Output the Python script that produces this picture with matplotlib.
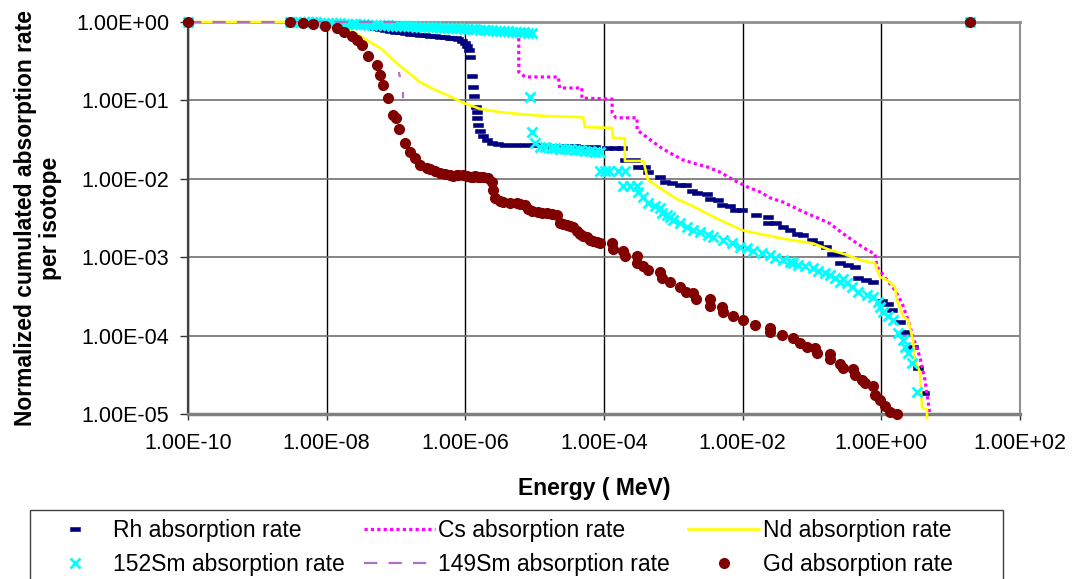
import numpy as np
import matplotlib
matplotlib.use("Agg")
import matplotlib.pyplot as plt
from matplotlib.ticker import FixedLocator, FuncFormatter, NullLocator
from matplotlib.patches import Rectangle
from matplotlib.path import Path

plt.rcParams['font.family'] = ['Liberation Sans', 'DejaVu Sans']

# ---------------- data (energy in MeV, normalized cumulated rate) ----------------
rh_energy = [1e-10, 3.0e-9, 6.8e-9, 9.5e-9, 1.3e-8, 1.8e-8, 2.6e-8, 3.6e-8, 5.0e-8, 5.9e-8,
             6.9e-8, 8.2e-8, 9.7e-8, 1.14e-7, 1.35e-7, 1.6e-7, 1.9e-7, 2.2e-7, 2.6e-7, 3.1e-7,
             3.7e-7, 4.32e-7, 5.1e-7, 6.01e-7, 6.4e-7, 7.35e-7, 7.8e-7, 9.0e-7, 9.9e-7,
             1.06e-6, 1.13e-6, 1.17e-6, 1.25e-6, 1.29e-6, 1.33e-6, 1.43e-6, 1.47e-6, 1.47e-6, 1.52e-6,
             1.63e-6, 1.8e-6, 2.06e-6, 2.43e-6, 2.96e-6, 3.73e-6, 5.21e-6, 7.26e-6, 1.0e-5, 1.41e-5,
             1.96e-5, 2.74e-5, 3.82e-5, 5.32e-5, 7.41e-5, 1.11e-4, 1.44e-4, 1.82e-4, 2.0e-4, 2.8e-4,
             3.1e-4, 3.91e-4, 4.3e-4, 6.4e-4, 7.59e-4, 9.57e-4, 1.25e-3, 1.5e-3, 1.86e-3, 2.19e-3,
             3.06e-3, 3.4e-3, 4.41e-3, 5.0e-3, 6.58e-3, 7.76e-3, 9.8e-3, 1.56e-2, 2.32e-2, 2.32e-2,
             3.03e-2, 3.82e-2, 4.82e-2, 6.08e-2, 7.43e-2, 0.100, 0.122, 0.159, 0.195, 0.25,
             0.25, 0.331, 0.418, 0.461, 0.601, 0.76, 1.02, 1.25, 1.43, 1.86,
             2.2, 2.86, 3.38, 4.13, 19.0]
rh_rate = [1.0, 1.0, 1.0, 0.97, 0.97, 0.94, 0.915, 0.89, 0.84, 0.81,
           0.79, 0.77, 0.745, 0.735, 0.72, 0.71, 0.70, 0.69, 0.68, 0.67,
           0.66, 0.65, 0.64, 0.634, 0.625, 0.616, 0.61, 0.57, 0.54,
           0.49, 0.44, 0.36, 0.205, 0.148, 0.114, 0.082, 0.071, 0.060, 0.0486,
           0.0407, 0.0352, 0.0313, 0.029, 0.0278, 0.027, 0.027, 0.027, 0.027, 0.0262,
           0.0262, 0.0262, 0.0262, 0.0255, 0.0255, 0.0247, 0.0247, 0.0247, 0.0174, 0.0174,
           0.0142, 0.0142, 0.0122, 0.0105, 0.0091, 0.0088, 0.0083, 0.0083, 0.0070, 0.0066,
           0.0064, 0.0055, 0.0054, 0.0046, 0.0045, 0.0040, 0.0040, 0.0035, 0.0033, 0.0027,
           0.0027, 0.0024, 0.0022, 0.0020, 0.0019, 0.00166, 0.0015, 0.00135, 0.0011, 0.0011,
           0.00084, 0.0008, 0.00075, 0.00054, 0.00051, 0.00048, 0.00028, 0.00025, 0.00021, 0.000149,
           0.000111, 7.2e-5, 3.9e-5, 1.85e-5, 1.0]

cs_energy = [5.9e-6, 5.9e-6, 7.3e-6, 2.2e-5, 2.3e-5, 4.8e-5, 4.8e-5, 1.31e-4, 1.31e-4,
             1.49e-4, 3.0e-4, 3.0e-4, 4.3e-4, 6.4e-4, 9.0e-4, 1.38e-3, 1.9e-3, 3.06e-3, 4.7e-3,
             7.3e-3, 1.16e-2, 1.78e-2, 2.5e-2, 3.7e-2, 5.3e-2, 7.4e-2, 0.118, 0.18, 0.28,
             0.447, 0.62, 0.81, 0.87, 1.21, 1.57, 1.99, 2.43, 2.86, 3.61,
             4.27, 5.04]
cs_rate = [0.75, 0.23, 0.199, 0.199, 0.144, 0.144, 0.107, 0.104, 0.069,
           0.060, 0.060, 0.042, 0.0331, 0.0255, 0.0213, 0.0174, 0.0159, 0.0142, 0.0122,
           0.0097, 0.0079, 0.0068, 0.0057, 0.0051, 0.0044, 0.0038, 0.0032, 0.0027, 0.0020,
           0.0015, 0.00124, 0.0011, 0.00075, 0.00051, 0.00038, 0.00026, 0.000158, 9.6e-5, 5.3e-5,
           2.7e-5, 9.5e-6]

nd_energy = [1e-10, 1.3e-8, 1.84e-8, 2.4e-8, 3.24e-8, 4.22e-8, 5.9e-8, 8.2e-8, 1.14e-7, 1.6e-7,
             2.2e-7, 3.42e-7, 5.44e-7, 9.3e-7, 1.63e-6, 3.16e-6, 6.15e-6, 1.51e-5, 4.98e-5, 5.32e-5,
             1.31e-4, 1.35e-4, 2.0e-4, 2.0e-4, 3.7e-4, 4.3e-4, 6.4e-4, 1.13e-3, 1.9e-3, 3.06e-3,
             5.0e-3, 1.0e-2, 2.5e-2, 4.82e-2, 0.104, 0.18, 0.32, 0.49, 0.81, 0.87,
             0.96, 1.21, 1.57, 1.68, 2.06, 2.43, 2.86, 3.06, 3.61, 3.86,
             4.56, 4.56]
nd_rate = [1.0, 1.0, 0.86, 0.745, 0.64, 0.556, 0.466, 0.36, 0.275, 0.217,
           0.172, 0.14, 0.117, 0.093, 0.078, 0.071, 0.067, 0.063, 0.061, 0.0458,
           0.0445, 0.0331, 0.0331, 0.0169, 0.0169, 0.0097, 0.0076, 0.0055, 0.0045, 0.0036,
           0.0029, 0.0022, 0.00186, 0.00166, 0.0015, 0.00124, 0.00107, 0.00092, 0.00084, 0.00069,
           0.00056, 0.00051, 0.00042, 0.00028, 0.000178, 0.000158, 8.8e-5, 4.9e-5, 3.4e-5, 1.23e-5,
           1.12e-5, 9.0e-6]

sm152_energy = [1e-10, 3.0e-9, 3.6e-9, 4.1e-9, 4.7e-9, 5.4e-9, 6.1e-9, 7.0e-9, 8.0e-9, 9.2e-9,
                1.05e-8, 1.2e-8, 1.36e-8, 1.56e-8, 1.78e-8, 2.0e-8, 2.3e-8, 2.6e-8, 3.0e-8, 3.5e-8,
                3.9e-8, 4.5e-8, 5.1e-8, 5.9e-8, 6.7e-8, 7.7e-8, 8.7e-8, 1.0e-7, 1.14e-7, 1.3e-7,
                1.49e-7, 1.7e-7, 1.95e-7, 2.2e-7, 2.54e-7, 2.9e-7, 3.3e-7, 3.8e-7, 4.32e-7, 4.9e-7,
                5.62e-7, 6.4e-7, 7.35e-7, 8.4e-7, 9.57e-7, 1.1e-6, 1.25e-6, 1.4e-6, 1.63e-6, 1.9e-6,
                2.12e-6, 2.4e-6, 2.77e-6, 3.2e-6, 3.61e-6, 4.1e-6, 4.71e-6, 5.4e-6, 6.15e-6, 7.0e-6,
                8.02e-6, 9.2e-6,
                8.6e-6, 9.2e-6, 1.0e-5, 1.2e-5, 1.41e-5, 1.7e-5, 1.96e-5, 2.3e-5, 2.74e-5, 3.2e-5,
                3.82e-5, 4.5e-5, 5.32e-5, 6.3e-5, 7.41e-5, 8.8e-5,
                8.8e-5, 1.03e-4, 1.2e-4, 1.59e-4, 2.0e-4, 1.9e-4, 2.37e-4, 3.0e-4,
                3.1e-4, 3.66e-4, 4.32e-4, 5.44e-4, 6.43e-4, 6.87e-4, 8.11e-4, 8.95e-4, 9.91e-4, 1.25e-3,
                1.57e-3, 1.92e-3, 2.43e-3, 3.16e-3, 3.73e-3, 5.21e-3, 7.03e-3, 9.16e-3, 1.16e-2, 1.41e-2,
                1.9e-2, 2.48e-2, 2.93e-2, 3.82e-2, 4.82e-2, 5.32e-2, 6.28e-2, 7.93e-2, 0.104, 0.122,
                0.154, 0.182, 0.215, 0.254, 0.281, 0.32, 0.378, 0.461, 0.622, 0.76,
                0.896, 0.96, 1.06, 1.25, 1.48, 1.74, 2.06, 2.2, 2.43, 2.77,
                3.27, 19.0]
sm152_rate = [1.0, 1.0, 1.0, 1.0, 1.0, 1.0, 1.0, 1.0, 0.97, 0.97,
              0.97, 0.97, 0.97, 0.97, 0.94, 0.94, 0.94, 0.94, 0.94, 0.94,
              0.915, 0.915, 0.915, 0.915, 0.915, 0.915, 0.89, 0.89, 0.89, 0.89,
              0.89, 0.89, 0.86, 0.86, 0.86, 0.86, 0.86, 0.86, 0.84, 0.84,
              0.84, 0.84, 0.84, 0.84, 0.81, 0.81, 0.81, 0.81, 0.79, 0.79,
              0.79, 0.79, 0.77, 0.77, 0.77, 0.77, 0.745, 0.745, 0.745, 0.745,
              0.72, 0.72,
              0.110, 0.0395, 0.029, 0.0255, 0.0255, 0.0247, 0.0247, 0.024, 0.024, 0.024,
              0.0233, 0.0233, 0.0226, 0.0226, 0.022, 0.022,
              0.0126, 0.0126, 0.0126, 0.0126, 0.0126, 0.0081, 0.0081, 0.0081,
              0.0068, 0.00586, 0.0049, 0.0045, 0.00425, 0.0037, 0.0035, 0.0033, 0.003, 0.0027,
              0.00243, 0.0022, 0.0021, 0.0019, 0.00181, 0.00166, 0.0015, 0.00135, 0.00131, 0.0012,
              0.00113, 0.00107, 0.00098, 0.00092, 0.00087, 0.00084, 0.0008, 0.00077, 0.00073, 0.00067,
              0.00063, 0.00059, 0.00054, 0.00048, 0.00053, 0.00047, 0.00042, 0.00036, 0.00033, 0.00031,
              0.00027, 0.00023, 0.0002, 0.00018, 0.000158, 0.000108, 8.8e-5, 7.2e-5, 6.0e-5, 4.5e-5,
              1.9e-5, 1.0]

# only fragments of the 149Sm curve are visible in the chart
sm149_energy = [1e-10, 1.0e-7, np.nan, 1.10e-7, 1.14e-7, np.nan, 1.26e-7, 1.26e-7]
sm149_rate = [1.0, 1.0, np.nan, 0.23, 0.199, np.nan, 0.128, 0.107]

gd_energy = [1e-10, 3.0e-9, 4.6e-9, 6.4e-9, 9.5e-9, 1.4e-8, 1.8e-8, 2.3e-8, 2.7e-8, 3.2e-8,
             3.9e-8, 5.3e-8, 5.9e-8, 6.5e-8, 7.7e-8, 9.1e-8, 1.0e-7, 1.1e-7, 1.35e-7, 1.6e-7,
             1.9e-7, 2.2e-7, 2.8e-7, 3.1e-7, 3.65e-7, 4.3e-7, 5.1e-7, 6.0e-7, 6.6e-7, 7.6e-7,
             7.8e-7, 9.3e-7, 1.06e-6, 1.2e-6, 1.29e-6, 1.4e-6, 1.5e-6, 1.63e-6, 1.8e-6, 2.1e-6,
             2.4e-6, 2.5e-6, 2.7e-6, 3.16e-6, 3.5e-6, 4.41e-6, 5.6e-6, 6.15e-6, 7.3e-6, 8.0e-6,
             9.16e-6, 1.1e-5, 1.28e-5, 1.5e-5, 1.78e-5, 2.1e-5, 2.3e-5, 2.56e-5, 2.9e-5, 3.24e-5,
             3.6e-5, 4.08e-5, 4.5e-5, 4.98e-5, 5.7e-5, 6.28e-5, 7.0e-5, 7.93e-5, 8.8e-5,
             1.3e-4, 1.35e-4, 1.9e-4, 2.0e-4, 3.0e-4, 3.0e-4, 3.7e-4, 4.3e-4, 6.4e-4,
             6.9e-4, 9.0e-4, 1.25e-3, 1.5e-3, 1.9e-3, 2.1e-3, 3.4e-3, 3.4e-3, 5.0e-3, 5.2e-3,
             7.3e-3, 1.0e-2, 1.5e-2, 2.5e-2, 2.5e-2, 3.7e-2, 5.3e-2, 6.7e-2, 8.5e-2, 0.11,
             0.118, 0.18, 0.18, 0.25, 0.28, 0.39, 0.42, 0.53, 0.58, 0.76,
             0.81, 0.96, 1.13, 1.33, 1.68, 19.0]
gd_rate = [1.0, 1.0, 0.97, 0.94, 0.89, 0.84, 0.745, 0.66, 0.59, 0.51,
           0.37, 0.28, 0.21, 0.157, 0.107, 0.065, 0.060, 0.043, 0.029, 0.022,
           0.0184, 0.015, 0.0137, 0.0133, 0.0126, 0.0119, 0.0115, 0.0112, 0.0109, 0.0112,
           0.0112, 0.0112, 0.0109, 0.0105, 0.0105, 0.0109, 0.0105, 0.0105, 0.0105, 0.0102,
           0.0091, 0.0072, 0.0057, 0.0052, 0.0051, 0.0049, 0.0049, 0.0048, 0.0046, 0.0041,
           0.0039, 0.0038, 0.0037, 0.0037, 0.0036, 0.0035, 0.0027, 0.00265, 0.0026, 0.0025,
           0.0024, 0.00216, 0.0020, 0.00186, 0.0018, 0.00166, 0.0016, 0.00156, 0.0015,
           0.0015, 0.00127, 0.0012, 0.00104, 0.00104, 0.00084, 0.00077, 0.00069, 0.00065,
           0.00054, 0.00048, 0.00042, 0.00036, 0.00035, 0.00029, 0.00029, 0.00024, 0.00023, 0.0002,
           0.00018, 0.00016, 0.000136, 0.000125, 0.000111, 0.000102, 9.3e-5, 8.0e-5, 7.2e-5, 7.0e-5,
           6.0e-5, 5.8e-5, 5.0e-5, 4.3e-5, 3.9e-5, 3.8e-5, 3.1e-5, 2.7e-5, 2.5e-5, 2.3e-5,
           1.75e-5, 1.5e-5, 1.26e-5, 1.06e-5, 1.0e-5, 1.0]

x_ticks = [1e-10, 1e-8, 1e-6, 1e-4, 1e-2, 1e0, 1e2]
y_ticks = [1e-5, 1e-4, 1e-3, 1e-2, 1e-1, 1e0]

labels = ["Rh absorption rate", "Cs absorption rate", "Nd absorption rate",
          "152Sm absorption rate", "149Sm absorption rate", "Gd absorption rate"]

# ---------------- figure ----------------
W, H = 1073, 579
fig = plt.figure(figsize=(W / 100, H / 100), dpi=100)
fig.patch.set_facecolor('white')
ax = fig.add_axes([188 / W, 1 - 414 / H, (1020 - 188) / W, (414 - 22) / H])
ax.set_xscale('log')
ax.set_yscale('log')
ax.set_xlim(1e-10, 1e2)
ax.set_ylim(1e-5, 1e0)

dash_marker = Path([(-1, -0.42), (1, -0.42), (1, 0.42), (-1, 0.42), (-1, -0.42)],
                   [Path.MOVETO, Path.LINETO, Path.LINETO, Path.LINETO, Path.CLOSEPOLY])

h_rh, = ax.plot(rh_energy, rh_rate, ls='none', marker=dash_marker, ms=7.5, mfc='#000080',
                mec='#000080', mew=0.4, clip_on=False, zorder=3, label=labels[0])
h_cs, = ax.plot(cs_energy, cs_rate, color='#FF00FF', lw=2.3, ls=(0, (1, 1)),
                clip_on=False, zorder=4, label=labels[1])
h_nd, = ax.plot(nd_energy, nd_rate, color='#FFFF00', lw=1.9, clip_on=False, zorder=5,
                label=labels[2])
h_s152, = ax.plot(sm152_energy, sm152_rate, ls='none', marker='x', ms=7, mew=2.0,
                  color='#00FFFF', clip_on=False, zorder=6, label=labels[3])
h_s149, = ax.plot(sm149_energy, sm149_rate, color='#B070C0', lw=1.6, ls=(0, (6, 5)),
                  clip_on=False, zorder=7, label=labels[4])
h_gd, = ax.plot(gd_energy, gd_rate, ls='none', marker='o', ms=7, color='#800000',
                mec='#800000', clip_on=False, zorder=8, label=labels[5])

# axes styling
ax.xaxis.set_major_locator(FixedLocator(x_ticks))
ax.yaxis.set_major_locator(FixedLocator(y_ticks))
ax.xaxis.set_minor_locator(NullLocator())
ax.yaxis.set_minor_locator(NullLocator())
fmt = FuncFormatter(lambda v, p: f"{v:.2E}")
ax.xaxis.set_major_formatter(fmt)
ax.yaxis.set_major_formatter(fmt)
ax.tick_params(axis='x', direction='out', length=4.5, width=1, color='#333333',
               labelsize=15.5, pad=9)
ax.tick_params(axis='y', direction='out', length=5.5, width=1, color='#333333',
               labelsize=15.5, pad=8)

ax.set_axisbelow(True)
ax.grid(True, axis='y', color='#707070', lw=1.2)
ax.grid(True, axis='x', color='#000000', lw=1.0)

ax.spines['top'].set_color('#909090')
ax.spines['top'].set_linewidth(2.0)
ax.spines['right'].set_color('#909090')
ax.spines['right'].set_linewidth(1.5)
ax.spines['bottom'].set_color('#808080')
ax.spines['bottom'].set_linewidth(2.5)
ax.spines['left'].set_color('#404040')
ax.spines['left'].set_linewidth(1.6)

fig.text(38 / W, 1 - 218 / H, "Normalized cumulated absorption rate\nper isotope",
         rotation=90, ha='center', va='center', fontsize=16.5, fontweight='bold',
         multialignment='center', linespacing=1.15)
fig.text(594 / W, 1 - 488 / H, "Energy ( MeV)", ha='center', va='center',
         fontsize=16.5, fontweight='bold')

# legend
fig.add_artist(Rectangle((30 / W, 1 - 590 / H), (1003 - 30) / W, (590 - 510) / H,
                         transform=fig.transFigure, fill=False, ec='#404040', lw=1.0))
handles = [h_rh, h_s152, h_cs, h_s149, h_nd, h_gd]
leg = fig.legend(handles, [h.get_label() for h in handles], ncol=3, frameon=False,
                 loc='upper left', bbox_to_anchor=(39 / W, 1 - 519 / H),
                 bbox_transform=fig.transFigure, fontsize=16.5, handlelength=3.1,
                 handletextpad=0.15, columnspacing=0.8, labelspacing=0.47,
                 borderpad=0, borderaxespad=0, numpoints=1)

fig.savefig('out.png', dpi=100, facecolor='white')
